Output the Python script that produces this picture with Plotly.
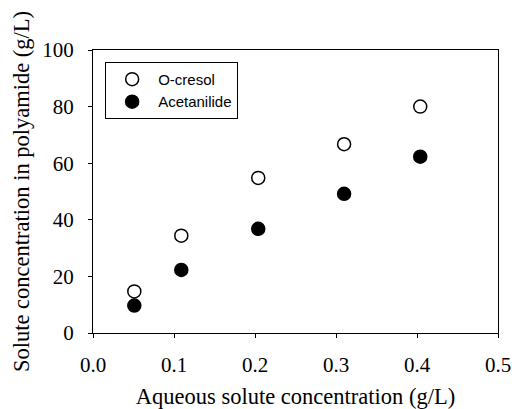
import plotly.graph_objects as go

x_vals = [0.051, 0.109, 0.204, 0.310, 0.404]
ocresol = [14.7, 34.4, 54.8, 66.7, 80.0]
acetanilide = [9.7, 22.3, 36.8, 49.2, 62.3]

x_ticks = [0.0, 0.1, 0.2, 0.3, 0.4, 0.5]
x_tick_labels = ["0.0", "0.1", "0.2", "0.3", "0.4", "0.5"]
y_ticks = [0, 20, 40, 60, 80, 100]

fig = go.Figure()
fig.add_trace(go.Scatter(x=x_vals, y=ocresol, mode="markers", name="O-cresol",
                         marker=dict(symbol="circle", size=13, color="white",
                                     line=dict(color="black", width=1.5))))
fig.add_trace(go.Scatter(x=x_vals, y=acetanilide, mode="markers", name="Acetanilide",
                         marker=dict(symbol="circle", size=13, color="black",
                                     line=dict(color="black", width=1.5))))

serif = "Liberation Serif, Times New Roman, serif"
fig.update_layout(
    width=512, height=409,
    margin=dict(l=93, r=14, t=50, b=76),
    plot_bgcolor="white", paper_bgcolor="white",
    showlegend=True,
    legend=dict(x=0.03, y=0.958, xanchor="left", yanchor="top",
                bordercolor="black", borderwidth=1, bgcolor="white", itemwidth=42,
                font=dict(family="Liberation Sans, Arial, sans-serif", size=15, color="black")),
    xaxis=dict(range=[0, 0.5], tickvals=x_ticks, ticktext=x_tick_labels,
               ticks="outside", ticklen=4, tickcolor="black", ticklabelstandoff=9,
               ticklabeloverflow="allow",
               showline=True, linecolor="black", linewidth=1, mirror=True,
               showgrid=False, zeroline=False, automargin=False,
               tickfont=dict(family=serif, size=21, color="black"),
               title=dict(text="Aqueous solute concentration (g/L)",
                          font=dict(family=serif, size=22.5, color="black"), standoff=13)),
    yaxis=dict(range=[0, 100], tickvals=y_ticks,
               ticks="outside", ticklen=4, tickcolor="black", ticklabelstandoff=10,
               showline=True, linecolor="black", linewidth=1, mirror=True,
               showgrid=False, zeroline=False, automargin=False,
               tickfont=dict(family=serif, size=21, color="black"),
               title=dict(text="Solute concentration in polyamide (g/L)",
                          font=dict(family=serif, size=22.5, color="black"), standoff=6)),
)
fig.write_html("out.html", config={"displayModeBar": False},
               post_script="document.body.style.margin='0';document.body.style.overflow='hidden';")
